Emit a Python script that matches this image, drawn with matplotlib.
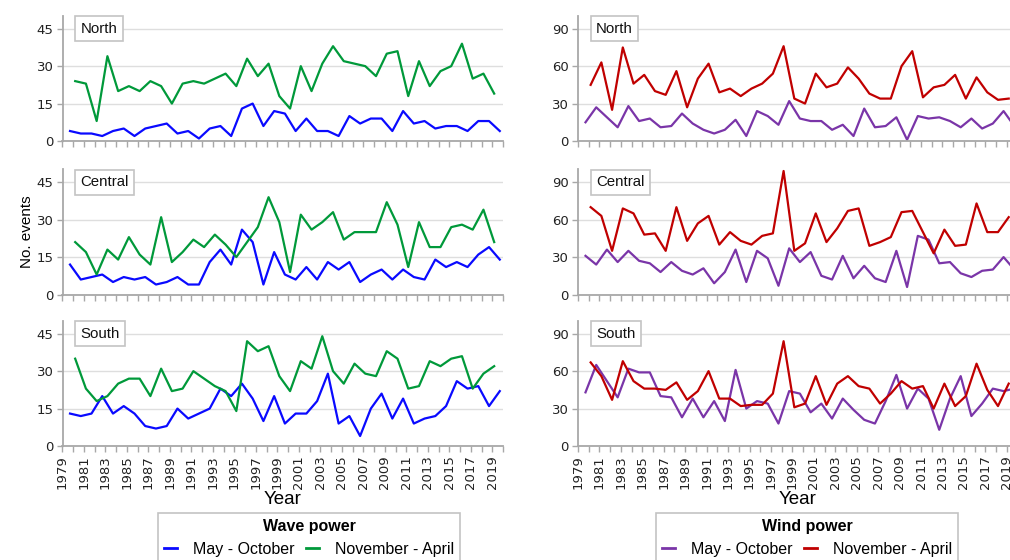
import matplotlib
matplotlib.use("Agg")
import matplotlib.pyplot as plt
from matplotlib.lines import Line2D
import numpy as np

years = list(range(1979, 2020))          # May - October seasons
winter_years = list(range(1979, 2019))   # November - April seasons (Nov of year)

regions = ["North", "Central", "South"]

wave_may_oct = {
    "North": [4, 3, 3, 2, 4, 5, 2, 5, 6, 7, 3, 4, 1, 5, 6, 2, 13, 15, 6, 12,
              11, 4, 9, 4, 4, 2, 10, 7, 9, 9, 4, 12, 7, 8, 5, 6, 6, 4, 8, 8, 4],
    "Central": [12, 6, 7, 8, 5, 7, 6, 7, 4, 5, 7, 4, 4, 13, 18, 12, 26, 21, 4, 17,
                8, 6, 11, 6, 13, 10, 13, 5, 8, 10, 6, 10, 7, 6, 14, 11, 13, 11, 16, 19, 14],
    "South": [13, 12, 13, 20, 13, 16, 13, 8, 7, 8, 15, 11, 13, 15, 23, 20, 25, 19, 10, 20,
              9, 13, 13, 18, 29, 9, 12, 4, 15, 21, 11, 19, 9, 11, 12, 16, 26, 23, 24, 16, 22],
}
wave_nov_apr = {
    "North": [24, 23, 8, 34, 20, 22, 20, 24, 22, 15, 23, 24, 23, 25, 27, 22, 33, 26, 31, 18,
              13, 30, 20, 31, 38, 32, 31, 30, 26, 35, 36, 18, 32, 22, 28, 30, 39, 25, 27, 19],
    "Central": [21, 17, 8, 18, 14, 23, 16, 12, 31, 13, 17, 22, 19, 24, 20, 15, 21, 27, 39, 29,
                9, 32, 26, 29, 33, 22, 25, 25, 25, 37, 28, 11, 29, 19, 19, 27, 28, 26, 34, 21],
    "South": [35, 23, 18, 20, 25, 27, 27, 20, 31, 22, 23, 30, 27, 24, 22, 14, 42, 38, 40, 28,
              22, 34, 31, 44, 30, 25, 33, 29, 28, 38, 35, 23, 24, 34, 32, 35, 36, 23, 29, 32],
}
wind_may_oct = {
    "North": [15, 27, 19, 11, 28, 16, 18, 11, 12, 22, 14, 9, 6, 9, 17, 4, 24, 20, 13, 32,
              18, 16, 16, 9, 13, 4, 26, 11, 12, 19, 1, 20, 18, 19, 16, 11, 18, 10, 14, 24, 12],
    "Central": [31, 24, 36, 26, 35, 27, 25, 18, 26, 19, 16, 21, 9, 18, 36, 10, 35, 29, 7, 37,
                26, 34, 15, 12, 31, 13, 23, 13, 10, 35, 6, 47, 44, 25, 26, 17, 14, 19, 20, 30, 20],
    "South": [43, 65, 52, 39, 62, 59, 59, 40, 39, 23, 38, 23, 36, 20, 61, 30, 36, 34, 18, 44,
              42, 27, 34, 22, 38, 29, 21, 18, 36, 57, 30, 46, 38, 13, 38, 56, 24, 34, 46, 44, 46],
}
wind_nov_apr = {
    "North": [45, 63, 25, 75, 46, 53, 40, 37, 56, 27, 50, 62, 39, 42, 36, 42, 46, 54, 76, 34,
              30, 54, 43, 46, 59, 50, 38, 34, 34, 60, 72, 35, 43, 45, 53, 34, 51, 39, 33, 34],
    "Central": [70, 63, 35, 69, 65, 48, 49, 35, 70, 43, 57, 63, 40, 50, 43, 40, 47, 49, 99, 35,
                41, 65, 42, 53, 67, 69, 39, 42, 46, 66, 67, 50, 33, 52, 39, 40, 73, 50, 50, 62],
    "South": [67, 56, 37, 68, 52, 46, 46, 45, 51, 37, 44, 60, 38, 38, 32, 33, 33, 42, 84, 31,
              34, 56, 33, 50, 56, 48, 46, 34, 42, 52, 46, 48, 30, 50, 32, 40, 66, 45, 32, 50],
}

season_labels = ["May - October", "November - April"]
wave_colors = ["#0a0aff", "#00993a"]
wind_colors = ["#7a35a8", "#c00000"]
wave_yticks = [0, 15, 30, 45]
wind_yticks = [0, 30, 60, 90]

W, H = 1010, 560
fig = plt.figure(figsize=(W / 100, H / 100), dpi=100)

GRAY_AX = "#a8a8a8"
GRID = "#dedede"
LABEL_FONT = ["Liberation Sans", "DejaVu Sans"]

row_bottom_px = [141, 294.5, 446]
row_h_px = 125.5


def style_axis(ax, yticks, ymax, show_xlabels):
    ax.set_xlim(1979, 2020)
    ax.set_ylim(0, ymax)
    for s in ["top", "right"]:
        ax.spines[s].set_visible(False)
    for s in ["left", "bottom"]:
        ax.spines[s].set_color(GRAY_AX)
        ax.spines[s].set_linewidth(1.3)
    ax.set_yticks(yticks)
    ax.set_yticklabels([str(v) for v in yticks], fontsize=9.5, family="DejaVu Sans", color="#222222")
    major = list(range(1979, 2021))
    ax.set_xticks(major)
    if show_xlabels:
        ax.set_xticklabels([str(y) if (y - 1979) % 2 == 0 and y < 2020 else "" for y in major],
                           rotation=90, fontsize=9.5, family="DejaVu Sans", color="#222222")
    else:
        ax.set_xticklabels([])
    ax.set_xticks(list(range(1983, 2020, 4)), minor=True)
    ax.tick_params(axis="x", which="major", length=4.5, width=1, color=GRAY_AX, pad=2)
    ax.tick_params(axis="x", which="minor", length=0)
    ax.tick_params(axis="y", length=4.5, width=1, color=GRAY_AX, pad=2)
    ax.grid(True, axis="y", color=GRID, linewidth=1)
    ax.grid(True, axis="x", which="minor", color=GRID, linewidth=1)
    ax.set_axisbelow(True)


def panel_label(ax, text):
    ax.annotate(text, xy=(0, 1), xycoords="axes fraction", xytext=(13, -4.5),
                textcoords="offset points", ha="left", va="top", fontsize=10.8,
                family=LABEL_FONT, color="#111111",
                bbox=dict(boxstyle="square,pad=0.36", fc="white", ec="#c4c4c4", lw=1.2))


x_summer = np.array(years) + 0.7
x_winter = np.array(winter_years) + 1.18

for i, reg in enumerate(regions):
    b = 1 - row_bottom_px[i] / H
    h = row_h_px / H
    axl = fig.add_axes([62.5 / W, b, 440.5 / W, h])
    axr = fig.add_axes([578 / W, b, 439.5 / W, h])
    style_axis(axl, wave_yticks, 50.3, i == 2)
    style_axis(axr, wind_yticks, 100.6, i == 2)
    axl.plot(x_summer, wave_may_oct[reg], color=wave_colors[0], lw=1.6, clip_on=False)
    axl.plot(x_winter, wave_nov_apr[reg], color=wave_colors[1], lw=1.6, clip_on=False)
    axr.plot(x_summer, wind_may_oct[reg], color=wind_colors[0], lw=1.6, clip_on=False)
    axr.plot(x_winter, wind_nov_apr[reg], color=wind_colors[1], lw=1.6, clip_on=False)
    panel_label(axl, reg)
    panel_label(axr, reg)
    if i == 1:
        axl.set_ylabel("No. events", fontsize=11, family=LABEL_FONT)
        axl.yaxis.set_label_coords((34 - 62.5) / 440.5, 0.5)
    if i == 2:
        axl.set_xlabel("Year", fontsize=13.5, family=LABEL_FONT)
        axr.set_xlabel("Year", fontsize=13.5, family=LABEL_FONT)
        axl.xaxis.set_label_coords((283 - 62.5) / 440.5, -(491 - 446) / row_h_px)
        axr.xaxis.set_label_coords((798 - 578) / 439.5, -(491 - 446) / row_h_px)


def season_legend(cx, title, colors):
    handles = [Line2D([], [], color=c, lw=2) for c in colors]
    leg = fig.legend(handles, season_labels, loc="upper center",
                     bbox_to_anchor=(cx / W, 1 - 513 / H), ncol=2, frameon=True,
                     fancybox=False, edgecolor="#b4b4b4", title=title,
                     prop={"family": LABEL_FONT, "size": 11.5},
                     title_fontproperties={"family": LABEL_FONT, "size": 11.5, "weight": "bold"},
                     handlelength=0.85, handletextpad=1.0, columnspacing=0.7,
                     borderpad=0.35, borderaxespad=0)
    leg.get_frame().set_linewidth(1.2)
    return leg


season_legend(309, "Wave power", wave_colors)
season_legend(807, "Wind power", wind_colors)

fig.savefig("out.png", dpi=100)
